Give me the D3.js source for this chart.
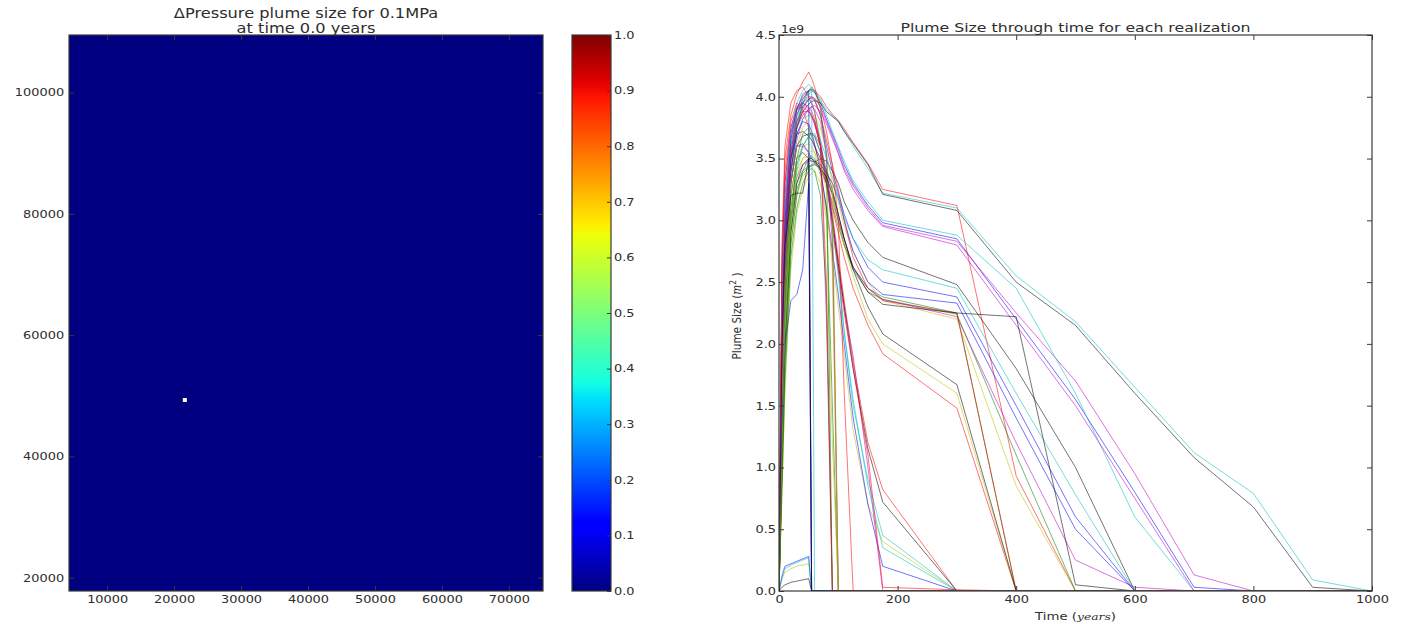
<!DOCTYPE html>
<html>
<head>
<meta charset="utf-8">
<script src="https://cdn.jsdelivr.net/npm/d3@7"></script>
<style>
  body { margin: 0; background: #fff; }
  svg text { font-family: "DejaVu Sans", sans-serif; fill: #2e2e2e; }
</style>
</head>
<body>
<svg id="fig" width="1401" height="624"></svg>
<script>
// ---------- pressure field panel ----------
const fieldExtentX = [4300, 75100];      // model domain, easting (m)
const fieldExtentY = [17800, 109500];    // model domain, northing (m)
const fieldValue = 0.0;                  // normalized pressure change everywhere at t = 0
const injectionCell = [21600, 49300];    // cell centre of the injection well (no data)
const injectionCellSize = [600, 650];
const fieldXTicks = [10000, 20000, 30000, 40000, 50000, 60000, 70000];
const fieldYTicks = [20000, 40000, 60000, 80000, 100000];
const colorbarTicks = [0.0, 0.1, 0.2, 0.3, 0.4, 0.5, 0.6, 0.7, 0.8, 0.9, 1.0];

// ---------- plume size panel ----------
const timeYears = [0, 5, 10, 20, 30, 40, 50, 55, 60, 70, 80, 90, 100, 110, 125, 150, 175, 300, 400, 500, 600, 700, 800, 900, 1000];
const timeTicks = [0, 200, 400, 600, 800, 1000];
const sizeTicks = [0.0, 0.5, 1.0, 1.5, 2.0, 2.5, 3.0, 3.5, 4.0, 4.5];

// plume area of each realization (units of 1e9 m^2) at each entry of timeYears
const run01 = [0, 1.9, 2.9, 3.55, 3.85, 3.98, 4.05, 4.06, 4.04, 3.95, 3.82, 3.7, 3.58, 3.45, 3.3, 3.12, 2.98, 2.85, 2.2, 1.55, 0.8, 0.03, 0, 0, 0];
const run02 = [0, 1.2, 2.2, 3.0, 3.3, 3.4, 3.44, 3.45, 3.46, 3.42, 3.3, 3.12, 2.95, 2.8, 2.62, 2.45, 2.38, 2.25, 0, 0, 0, 0, 0, 0, 0];
const run03 = [0, 2.3, 3.2, 3.7, 3.9, 4.0, 4.05, 4.06, 4.05, 4.0, 3.92, 3.86, 3.81, 3.74, 3.63, 3.46, 3.25, 3.12, 0.93, 0, 0, 0, 0, 0, 0];
const run04 = [0, 2.2, 3.1, 3.65, 3.88, 3.98, 4.04, 4.05, 4.03, 3.97, 3.9, 3.85, 3.8, 3.72, 3.6, 3.42, 3.22, 3.1, 2.55, 2.18, 1.65, 1.12, 0.79, 0.09, 0];
const run05 = [0, 1.6, 2.6, 3.4, 3.75, 3.9, 3.98, 4.0, 3.99, 3.92, 3.8, 3.68, 3.55, 3.42, 3.28, 3.1, 2.96, 2.83, 2.25, 1.7, 0.95, 0.13, 0, 0, 0];
const run06 = [0, 1.0, 1.9, 2.8, 3.2, 3.35, 3.42, 3.44, 3.45, 3.44, 3.4, 3.3, 3.15, 2.95, 2.75, 2.5, 2.35, 2.2, 0.85, 0, 0, 0, 0, 0, 0];
const run07 = [0, 2.0, 2.9, 3.5, 3.75, 3.88, 3.94, 3.96, 3.97, 3.95, 3.88, 3.84, 3.8, 3.72, 3.62, 3.45, 3.21, 3.08, 2.5, 2.15, 1.6, 1.08, 0.68, 0.03, 0];
const run08 = [0, 1.8, 2.8, 3.5, 3.8, 3.92, 3.98, 3.99, 3.97, 3.85, 3.6, 3.4, 3.22, 3.05, 2.85, 2.62, 2.5, 2.38, 1.5, 0.6, 0, 0, 0, 0, 0];
const run09 = [0, 1.1, 2.0, 2.9, 3.25, 3.38, 3.43, 3.44, 3.45, 3.42, 3.35, 3.2, 3.0, 2.8, 2.6, 2.42, 2.36, 2.24, 1.1, 0, 0, 0, 0, 0, 0];
const run10 = [0, 2.6, 3.4, 3.8, 3.95, 3.9, 3.75, 3.68, 3.6, 3.45, 3.3, 3.1, 2.9, 2.7, 2.45, 2.15, 1.92, 1.48, 0, 0, 0, 0, 0, 0, 0];
const run11 = [0, 1.7, 2.7, 3.45, 3.8, 3.95, 4.02, 4.04, 4.05, 3.98, 3.85, 3.72, 3.6, 3.48, 3.32, 3.15, 3.0, 2.88, 2.45, 1.6, 0.6, 0, 0, 0, 0];
const run12 = [0, 1.5, 2.5, 3.3, 3.65, 3.82, 3.9, 3.92, 3.93, 3.88, 3.78, 3.66, 3.54, 3.4, 3.25, 3.08, 2.95, 2.8, 2.15, 1.5, 0.75, 0, 0, 0, 0];
const run13 = [0, 1.3, 2.3, 3.1, 3.4, 3.5, 3.52, 3.5, 3.47, 3.42, 3.35, 3.2, 3.0, 2.8, 2.55, 2.2, 2.0, 1.6, 0, 0, 0, 0, 0, 0, 0];
const run14 = [0, 1.4, 2.4, 3.2, 3.5, 3.55, 3.5, 3.48, 3.47, 3.5, 3.48, 3.4, 3.3, 3.15, 3.0, 2.82, 2.7, 2.48, 1.8, 1.0, 0, 0, 0, 0, 0];
const run15 = [0, 1.5, 2.5, 3.3, 3.6, 3.62, 3.55, 3.5, 3.48, 3.45, 3.38, 3.3, 3.18, 3.0, 2.75, 2.5, 2.4, 2.33, 1.4, 0.5, 0, 0, 0, 0, 0];
const run16 = [0, 0.9, 1.8, 2.8, 3.2, 3.4, 3.5, 3.52, 3.5, 3.4, 3.1, 1.5, 0, 0, 0, 0, 0, 0, 0, 0, 0, 0, 0, 0, 0];
const run17 = [0, 2.0, 3.0, 3.6, 3.85, 3.95, 4.0, 4.0, 3.98, 3.85, 3.65, 3.45, 3.25, 3.0, 2.7, 2.45, 2.35, 2.25, 0, 0, 0, 0, 0, 0, 0];
const run18 = [0, 1.6, 2.6, 3.4, 3.7, 3.82, 3.85, 3.84, 3.8, 3.65, 3.5, 3.35, 3.2, 3.02, 2.85, 2.68, 2.6, 2.45, 1.6, 0.78, 0, 0, 0, 0, 0];
const run19 = [0, 1.2, 2.2, 3.0, 3.35, 3.45, 3.48, 3.48, 3.47, 3.4, 3.3, 3.15, 3.0, 2.85, 2.62, 2.45, 2.36, 2.22, 1.2, 0.25, 0.03, 0, 0, 0, 0];
const run20 = [0, 1.4, 2.4, 3.2, 3.5, 3.6, 3.62, 3.6, 3.55, 3.35, 3.05, 2.7, 2.3, 1.9, 1.3, 0.7, 0.4, 0, 0, 0, 0, 0, 0, 0, 0];
const run21 = [0, 1.8, 2.8, 3.5, 3.7, 3.72, 3.68, 3.65, 3.6, 3.5, 3.4, 3.25, 3.05, 2.85, 2.6, 2.3, 2.08, 1.67, 0, 0, 0, 0, 0, 0, 0];
const run22 = [0, 1.7, 2.7, 3.4, 3.7, 3.8, 3.78, 3.72, 3.62, 3.4, 3.1, 2.75, 2.4, 2.0, 1.4, 0.7, 0.2, 0, 0, 0, 0, 0, 0, 0, 0];
const run23 = [0, 1.3, 2.3, 3.1, 3.45, 3.6, 3.68, 3.7, 3.7, 3.6, 3.4, 3.0, 0, 0, 0, 0, 0, 0, 0, 0, 0, 0, 0, 0, 0];
const run24 = [0, 2.4, 3.3, 3.75, 3.92, 3.95, 3.9, 3.85, 3.78, 3.6, 3.35, 3.05, 2.7, 2.35, 1.85, 1.2, 0.82, 0, 0, 0, 0, 0, 0, 0, 0];
const run25 = [0, 1.9, 2.9, 3.6, 3.85, 3.95, 3.98, 3.95, 3.88, 3.65, 3.35, 3.0, 2.6, 2.1, 1.5, 0.9, 0.45, 0, 0, 0, 0, 0, 0, 0, 0];
const run26 = [0, 2.2, 3.1, 3.7, 3.9, 3.95, 3.92, 3.88, 3.82, 3.62, 3.35, 3.0, 2.65, 2.3, 1.9, 1.0, 0, 0, 0, 0, 0, 0, 0, 0, 0];
const run27 = [0, 0.8, 1.6, 2.6, 3.05, 3.25, 3.35, 3.38, 3.4, 3.3, 3.0, 1.2, 0, 0, 0, 0, 0, 0, 0, 0, 0, 0, 0, 0, 0];
const run28 = [0, 1.5, 2.5, 3.3, 3.6, 3.68, 3.7, 3.7, 3.68, 3.55, 3.3, 3.0, 2.65, 2.3, 1.8, 1.15, 0.72, 0, 0, 0, 0, 0, 0, 0, 0];
const run29 = [0, 2.1, 3.0, 3.65, 3.9, 4.02, 4.05, 0, 0, 0, 0, 0, 0, 0, 0, 0, 0, 0, 0, 0, 0, 0, 0, 0, 0];
const run30 = [0, 1.6, 2.6, 3.4, 3.75, 3.95, 4.05, 4.08, 4.05, 3.9, 3.5, 0, 0, 0, 0, 0, 0, 0, 0, 0, 0, 0, 0, 0, 0];
const run31 = [0, 2.7, 3.5, 3.85, 4.02, 4.12, 4.2, 4.15, 4.08, 3.92, 3.72, 3.45, 3.0, 1.6, 0, 0, 0, 0, 0, 0, 0, 0, 0, 0, 0];
const run32 = [0, 1.2, 2.2, 3.0, 3.4, 3.6, 3.68, 3.7, 3.68, 3.55, 3.3, 2.95, 2.55, 2.1, 1.55, 0.85, 0.35, 0, 0, 0, 0, 0, 0, 0, 0];
const run33 = [0, 2.5, 3.3, 3.75, 3.9, 3.92, 3.88, 3.84, 3.78, 3.6, 2.2, 0, 0, 0, 0, 0, 0, 0, 0, 0, 0, 0, 0, 0, 0];
const run34 = [0, 0.1, 0.15, 0.18, 0.2, 0.21, 0.22, 0, 0, 0, 0, 0, 0, 0, 0, 0, 0, 0, 0, 0, 0, 0, 0, 0, 0];
const run35 = [0, 1.0, 2.0, 2.9, 3.3, 3.45, 3.5, 3.5, 3.48, 3.42, 3.35, 3.22, 3.05, 2.85, 2.62, 2.42, 2.32, 2.25, 2.22, 0.05, 0, 0, 0, 0, 0];
const run36 = [0, 0.12, 0.2, 0.22, 0.24, 0.26, 0.28, 0, 0, 0, 0, 0, 0, 0, 0, 0, 0, 0, 0, 0, 0, 0, 0, 0, 0];
const run37 = [0, 1.0, 2.0, 3.0, 3.5, 3.7, 3.75, 0, 0, 0, 0, 0, 0, 0, 0, 0, 0, 0, 0, 0, 0, 0, 0, 0, 0];
const run38 = [0, 1.9, 2.9, 3.55, 3.8, 3.88, 3.88, 3.85, 3.8, 3.6, 3.3, 2.95, 2.6, 2.25, 1.8, 1.1, 0.03, 0.01, 0, 0, 0, 0, 0, 0, 0];
const run39 = [0, 0.1, 0.18, 0.21, 0.23, 0.25, 0.27, 0, 0, 0, 0, 0, 0, 0, 0, 0, 0, 0, 0, 0, 0, 0, 0, 0, 0];
const run40 = [0, 1.7, 2.7, 3.4, 3.6, 3.6, 3.55, 0, 0, 0, 0, 0, 0, 0, 0, 0, 0, 0, 0, 0, 0, 0, 0, 0, 0];
const run41 = [0, 1.5, 2.5, 3.3, 3.6, 3.75, 3.82, 3.85, 3.85, 3.75, 3.55, 3.3, 0, 0, 0, 0, 0, 0, 0, 0, 0, 0, 0, 0, 0];
const run42 = [0, 0.03, 0.05, 0.07, 0.08, 0.09, 0.1, 0, 0, 0, 0, 0, 0, 0, 0, 0, 0, 0, 0, 0, 0, 0, 0, 0, 0];
const run43 = [0, 1.3, 2.0, 2.35, 2.4, 2.6, 3.3, 0, 0, 0, 0, 0, 0, 0, 0, 0, 0, 0, 0, 0, 0, 0, 0, 0, 0];
const run44 = [0, 0.8, 1.7, 2.7, 3.1, 3.3, 3.4, 3.42, 3.4, 3.2, 2.4, 0, 0, 0, 0, 0, 0, 0, 0, 0, 0, 0, 0, 0, 0];
const run45 = [0, 2.8, 3.6, 3.95, 4.05, 4.08, 4.0, 3.95, 3.88, 3.6, 2.5, 0, 0, 0, 0, 0, 0, 0, 0, 0, 0, 0, 0, 0, 0];
const run46 = [0, 2.3, 3.2, 3.7, 3.95, 4.05, 4.1, 4.08, 0, 0, 0, 0, 0, 0, 0, 0, 0, 0, 0, 0, 0, 0, 0, 0, 0];
const run47 = [0, 2.0, 2.9, 3.5, 3.75, 3.85, 3.9, 3.92, 3.9, 3.8, 3.55, 2.8, 0, 0, 0, 0, 0, 0, 0, 0, 0, 0, 0, 0, 0];
const run48 = [0, 1.1, 2.1, 3.0, 3.35, 3.5, 3.55, 3.56, 3.55, 3.45, 3.25, 2.6, 0, 0, 0, 0, 0, 0, 0, 0, 0, 0, 0, 0, 0];
const run49 = [0, 2.0, 2.8, 3.2, 3.22, 3.22, 3.5, 0, 0, 0, 0, 0, 0, 0, 0, 0, 0, 0, 0, 0, 0, 0, 0, 0, 0];

const realizations = [
  run01, run02, run03, run04, run05, run06, run07, run08, run09, run10,
  run11, run12, run13, run14, run15, run16, run17, run18, run19, run20,
  run21, run22, run23, run24, run25, run26, run27, run28, run29, run30,
  run31, run32, run33, run34, run35, run36, run37, run38, run39, run40,
  run41, run42, run43, run44, run45, run46, run47, run48, run49
];

// default line colour cycle (b, g, r, c, m, y, k)
const lineCycle = ["#0000ff", "#008000", "#ff0000", "#00bfbf", "#bf00bf", "#bfbf00", "#000000"];

// jet colormap, piecewise-linear per channel
const jetSegments = {
  r: [[0, 0], [0.35, 0], [0.66, 1], [0.89, 1], [1, 0.5]],
  g: [[0, 0], [0.125, 0], [0.375, 1], [0.64, 1], [0.91, 0], [1, 0]],
  b: [[0, 0.5], [0.11, 1], [0.34, 1], [0.65, 0], [1, 0]]
};
function channel(seg, v) {
  for (let i = 1; i < seg.length; i++) {
    if (v <= seg[i][0]) {
      const [x0, y0] = seg[i - 1], [x1, y1] = seg[i];
      return y0 + (y1 - y0) * (v - x0) / (x1 - x0);
    }
  }
  return seg[seg.length - 1][1];
}
function jet(v) {
  return d3.rgb(255 * channel(jetSegments.r, v), 255 * channel(jetSegments.g, v), 255 * channel(jetSegments.b, v)).formatHex();
}

const svg = d3.select("#fig");
const spineColor = "#3a3a3a";
const tickFont = 10.5;
const widen = 1.23;   // the figure's text is set slightly wide

function styleAxis(g) {
  g.select(".domain").remove();
  g.selectAll(".tick line").attr("stroke", spineColor).attr("stroke-width", 1);
  g.selectAll(".tick text").attr("font-size", tickFont).attr("fill", "#2e2e2e")
    .attr("transform", `scale(${widen},1)`)
    .style("font-family", "'DejaVu Sans', sans-serif");
}
function frame(x0, y0, w, h) {
  svg.append("rect").attr("x", x0).attr("y", y0).attr("width", w).attr("height", h)
    .attr("fill", "none").attr("stroke", spineColor).attr("stroke-width", 1.2);
}
function label(x, y, size, anchor) {
  return svg.append("text")
    .attr("transform", `translate(${x},${y}) scale(${widen},1)`)
    .attr("text-anchor", anchor).attr("font-size", size);
}

// ================= left: pressure field =================
const L = { left: 69, right: 543, top: 35, bottom: 591 };
const xF = d3.scaleLinear().domain(fieldExtentX).range([L.left, L.right]);
const yF = d3.scaleLinear().domain(fieldExtentY).range([L.bottom, L.top]);

svg.append("rect")
  .attr("x", xF(fieldExtentX[0])).attr("y", yF(fieldExtentY[1]))
  .attr("width", xF(fieldExtentX[1]) - xF(fieldExtentX[0]))
  .attr("height", yF(fieldExtentY[0]) - yF(fieldExtentY[1]))
  .attr("fill", jet(fieldValue));

svg.append("rect")
  .attr("x", xF(injectionCell[0] - injectionCellSize[0] / 2))
  .attr("y", yF(injectionCell[1] + injectionCellSize[1] / 2))
  .attr("width", xF(injectionCellSize[0]) - xF(0))
  .attr("height", yF(0) - yF(injectionCellSize[1]))
  .attr("fill", "#ffffff");

svg.append("g").attr("transform", `translate(0,${L.bottom})`)
  .call(d3.axisBottom(xF).tickValues(fieldXTicks).tickFormat(d3.format("d")).tickSize(-5).tickPadding(5))
  .call(styleAxis);
svg.append("g").attr("transform", `translate(0,${L.top})`)
  .call(d3.axisTop(xF).tickValues(fieldXTicks).tickFormat("").tickSize(-5))
  .call(styleAxis);
svg.append("g").attr("transform", `translate(${L.left},0)`)
  .call(d3.axisLeft(yF).tickValues(fieldYTicks).tickFormat(d3.format("d")).tickSize(-5).tickPadding(4))
  .call(styleAxis);
svg.append("g").attr("transform", `translate(${L.right},0)`)
  .call(d3.axisRight(yF).tickValues(fieldYTicks).tickFormat("").tickSize(-5))
  .call(styleAxis);
frame(L.left, L.top, L.right - L.left, L.bottom - L.top);

label((L.left + L.right) / 2, 18, 13.2, "middle").text("ΔPressure plume size for 0.1MPa");
label((L.left + L.right) / 2, 33.2, 13.2, "middle").text("at time 0.0 years");

// colorbar
const CB = { left: 572, right: 611, top: 35, bottom: 591 };
const cScale = d3.scaleLinear().domain([0, 1]).range([CB.bottom, CB.top]);
const grad = svg.append("defs").append("linearGradient").attr("id", "jetGrad")
  .attr("x1", 0).attr("y1", 1).attr("x2", 0).attr("y2", 0);
d3.range(0, 1.0001, 1 / 128).forEach(v => {
  grad.append("stop").attr("offset", v).attr("stop-color", jet(v));
});
svg.append("rect").attr("x", CB.left).attr("y", cScale(1))
  .attr("width", CB.right - CB.left).attr("height", cScale(0) - cScale(1))
  .attr("fill", "url(#jetGrad)");
svg.append("g").attr("transform", `translate(${CB.right},0)`)
  .call(d3.axisRight(cScale).tickValues(colorbarTicks).tickFormat(d3.format(".1f")).tickSize(-4).tickPadding(2.5))
  .call(styleAxis);
frame(CB.left, CB.top, CB.right - CB.left, CB.bottom - CB.top);

// ================= right: plume size through time =================
const R = { left: 779, right: 1372, top: 35, bottom: 591 };
const xT = d3.scaleLinear().domain([0, 1000]).range([R.left, R.right]);
const yS = d3.scaleLinear().domain([0, 4.5]).range([R.bottom, R.top]);

svg.append("defs").append("clipPath").attr("id", "plotClip")
  .append("rect").attr("x", R.left).attr("y", R.top).attr("width", R.right - R.left).attr("height", R.bottom - R.top);

const line = d3.line().x((d, i) => xT(timeYears[i])).y(d => yS(d));
svg.append("g").attr("clip-path", "url(#plotClip)")
  .selectAll("path").data(realizations).join("path")
  .attr("d", line)
  .attr("fill", "none")
  .attr("stroke", (d, i) => lineCycle[i % lineCycle.length])
  .attr("stroke-opacity", 0.55)
  .attr("stroke-width", 1)
  .attr("stroke-linejoin", "round");

svg.append("g").attr("transform", `translate(0,${R.bottom})`)
  .call(d3.axisBottom(xT).tickValues(timeTicks).tickFormat(d3.format("d")).tickSize(-5).tickPadding(5))
  .call(styleAxis);
svg.append("g").attr("transform", `translate(0,${R.top})`)
  .call(d3.axisTop(xT).tickValues(timeTicks).tickFormat("").tickSize(-5))
  .call(styleAxis);
svg.append("g").attr("transform", `translate(${R.left},0)`)
  .call(d3.axisLeft(yS).tickValues(sizeTicks).tickFormat(d3.format(".1f")).tickSize(-5).tickPadding(2.5))
  .call(styleAxis);
svg.append("g").attr("transform", `translate(${R.right},0)`)
  .call(d3.axisRight(yS).tickValues(sizeTicks).tickFormat("").tickSize(-5))
  .call(styleAxis);
frame(R.left, R.top, R.right - R.left, R.bottom - R.top);

label(R.left + 2, 33, 10, "start").text("1e9");

label((R.left + R.right) / 2, 32, 12.8, "middle")
  .text("Plume Size through time for each realization");

const xLabel = label((R.left + R.right) / 2, 620, 10.8, "middle");
xLabel.append("tspan").text("Time (");
xLabel.append("tspan").style("font-family", "'DejaVu Serif', serif").attr("font-style", "italic").attr("font-size", 10).text("years");
xLabel.append("tspan").text(")");

const yLabel = svg.append("text")
  .attr("transform", `translate(741,${(R.top + R.bottom) / 2 + 3}) scale(${widen},1) rotate(-90)`)
  .attr("text-anchor", "middle").attr("font-size", 10.5);
yLabel.append("tspan").text("Plume Size (");
yLabel.append("tspan").style("font-family", "'DejaVu Serif', serif").attr("font-style", "italic").text("m");
yLabel.append("tspan").attr("dy", -4).attr("font-size", 7.5).text("2");
yLabel.append("tspan").attr("dy", 4).text(" )");
</script>
</body>
</html>
